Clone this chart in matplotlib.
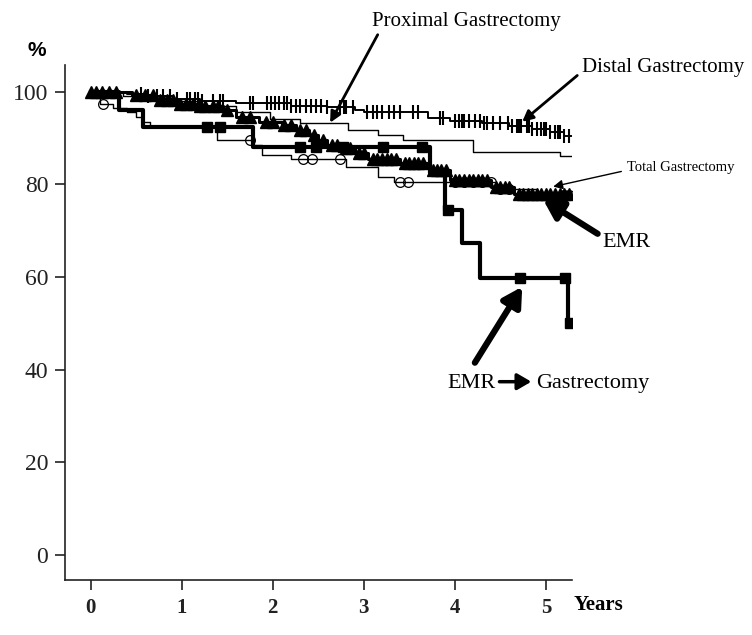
import numpy as np
import matplotlib.pyplot as plt

# Kaplan-Meier style survival steps (years, %)
distal_t = [0, 0.4, 0.6, 0.9, 1.2, 1.6, 2.2, 2.6, 2.9, 3.0, 3.7, 3.95, 4.3, 4.6, 4.85, 5.05, 5.2]
distal_s = [100, 99.5, 99, 98.5, 97.9, 97.5, 97, 96.6, 96.1, 95.5, 94.4, 93.7, 93.3, 92.5, 92, 91.3, 90.5]
distal_end = 5.28
distal_cens = [0.55, 0.63, 0.73, 0.79, 0.87, 0.95, 1.06, 1.09, 1.15, 1.18, 1.22, 1.34, 1.42, 1.45,
               1.75, 1.78, 1.94, 1.98, 2.02, 2.07, 2.12, 2.16, 2.2, 2.25, 2.3, 2.36, 2.42,
               2.48, 2.53, 2.6, 2.74, 2.78, 2.8, 2.88, 3.04, 3.1, 3.14, 3.2, 3.28, 3.33, 3.4,
               3.54, 3.59, 3.84, 3.87, 4.0, 4.05, 4.08, 4.1, 4.15, 4.22, 4.28, 4.32, 4.35,
               4.42, 4.5, 4.58, 4.63, 4.68, 4.7, 4.73, 4.79, 4.82, 4.85, 4.9, 4.95, 4.98, 5.0,
               5.05, 5.1, 5.13, 5.15, 5.2, 5.25]

prox_t = [0, 0.35, 0.8, 1.2, 1.6, 1.97, 2.3, 2.83, 3.16, 3.43, 4.2, 5.15]
prox_s = [100, 99, 98, 97, 95.5, 94, 93.3, 91.8, 90.7, 89.6, 87, 86.2]
prox_end = 5.28

total_t = [0, 0.1, 0.25, 0.4, 0.5, 0.57, 0.65, 1.39, 1.78, 1.88, 2.2, 2.8, 3.16, 3.33, 4.45, 4.9]
total_s = [100, 97.4, 96.5, 95.5, 94.5, 93.5, 92.4, 89.6, 88.5, 86.4, 85.5, 83.8, 81.6, 80.6, 79, 77.8]
total_end = 5.28
total_cens = [0.13, 1.75, 2.33, 2.43, 2.74, 3.4, 3.49, 4.0, 4.1, 4.2, 4.3, 4.4, 4.5, 4.6, 5.2, 5.25]

emr_t = [0, 0.45, 0.7, 0.95, 1.2, 1.45, 1.6, 1.85, 2.1, 2.25, 2.4, 2.5, 2.6, 2.75, 2.9, 3.05,
         3.4, 3.72, 3.95, 4.4, 4.65]
emr_s = [100, 99.3, 98.3, 97.4, 96.8, 96.1, 94.6, 93.5, 92.9, 91.8, 90.7, 89.6, 88.5, 87.9, 86.8,
         85.5, 84.5, 83, 81, 79.5, 78]
emr_end = 5.28
emr_cens = [0.0, 0.06, 0.12, 0.2, 0.28, 0.5, 0.6, 0.68, 0.76, 0.84, 0.9, 0.98, 1.05, 1.12, 1.2,
            1.26, 1.34, 1.4, 1.5, 1.66, 1.75, 1.92, 2.0, 2.12, 2.2, 2.3, 2.36, 2.45, 2.55, 2.65,
            2.7, 2.8, 2.85, 2.95, 3.0, 3.1, 3.15, 3.2, 3.25, 3.3, 3.35, 3.45, 3.5, 3.55, 3.6,
            3.65, 3.76, 3.8, 3.85, 3.9, 4.0, 4.05, 4.1, 4.15, 4.2, 4.25, 4.3, 4.35, 4.45, 4.5,
            4.55, 4.6, 4.7, 4.75, 4.8, 4.85, 4.9, 4.95, 5.0, 5.05, 5.1, 5.15, 5.2, 5.25]

emrg_t = [0, 0.31, 0.575, 1.785, 3.73, 3.89, 4.08, 4.28, 5.24]
emrg_s = [100, 96.1, 92.4, 88.1, 82.5, 74.5, 67.4, 59.8, 50.1]
emrg_end = 5.28
emrg_cens = [1.28, 1.42, 2.3, 2.47, 2.77, 3.21, 3.64, 3.93, 4.72, 5.21, 5.27]

x_ticks = [0, 1, 2, 3, 4, 5]
y_ticks = [0, 20, 40, 60, 80, 100]

SERIF = ['Liberation Serif', 'DejaVu Serif']


def step_value(t, s, when):
    idx = np.searchsorted(t, when, side='right') - 1
    return np.asarray(s)[idx]


def km(ax, t, s, end, cens=None, lw=1.0, marker=None, ms=7, mfc='black', mew=1.0):
    ax.step(list(t) + [end], list(s) + [s[-1]], where='post', color='black', lw=lw, zorder=3)
    if cens is not None:
        ax.plot(cens, step_value(t, s, cens), ls='none', marker=marker, ms=ms,
                mfc=mfc, mec='black', mew=mew, zorder=4)


fig = plt.figure(figsize=(7.52, 6.35), dpi=100)
ax = fig.add_axes([0.0864, 0.0866, 0.6746, 0.8114])

km(ax, prox_t, prox_s, prox_end, lw=1.0)
km(ax, total_t, total_s, total_end, total_cens, lw=1.0, marker='o', ms=7, mfc='none', mew=0.9)
km(ax, distal_t, distal_s, distal_end, distal_cens, lw=1.4, marker='|', ms=10, mew=1.5)
km(ax, emrg_t, emrg_s, emrg_end, emrg_cens, lw=3.0, marker='s', ms=7)
km(ax, emr_t, emr_s, emr_end, emr_cens, lw=2.2, marker='^', ms=9)

ax.set_xlim(-0.283, 5.29)
ax.set_ylim(-5.4, 105.8)
ax.set_xticks(x_ticks)
ax.set_yticks(y_ticks)
ax.set_xticklabels([str(v) for v in x_ticks], fontfamily=SERIF, fontweight='bold', fontsize=15)
ax.set_yticklabels([str(v) for v in y_ticks], fontfamily=SERIF, fontsize=17)
ax.tick_params(axis='y', length=7, width=1.2, pad=5, colors='#222222')
ax.tick_params(axis='x', length=7, width=1.2, pad=6, colors='#222222')
for side in ['top', 'right']:
    ax.spines[side].set_visible(False)
for side in ['left', 'bottom']:
    ax.spines[side].set_linewidth(1.2)
    ax.spines[side].set_color('#222222')

fig.text(37 / 752, 1 - 50 / 635, '%', ha='center', va='center', fontsize=15,
         fontweight='bold', family=['Liberation Sans', 'DejaVu Sans'])
fig.text(598 / 752, 1 - 605 / 635, 'Years', ha='center', va='center', fontsize=15,
         fontweight='bold', family=SERIF)

# labels and arrows
ax.annotate('Proximal Gastrectomy', xy=(2.63, 93.3), xytext=(4.13, 115.2),
            ha='center', va='center', fontsize=15, family=SERIF, annotation_clip=False,
            arrowprops=dict(arrowstyle='-|>', lw=2, color='black', mutation_scale=16,
                            shrinkA=1, shrinkB=0, relpos=(0.04, 0.0)))
ax.annotate('Distal Gastrectomy', xy=(4.74, 93.5), xytext=(6.29, 105.2),
            ha='center', va='center', fontsize=15, family=SERIF, annotation_clip=False,
            arrowprops=dict(arrowstyle='-|>', lw=2, color='black', mutation_scale=16,
                            shrinkA=2, shrinkB=0, relpos=(0.0, 0.3)))
ax.annotate('Total Gastrectomy', xy=(5.08, 79.5), xytext=(6.48, 83.6),
            ha='center', va='center', fontsize=10.5, family=SERIF, annotation_clip=False,
            arrowprops=dict(arrowstyle='-|>', lw=1, color='black', mutation_scale=14,
                            shrinkA=2, shrinkB=0, relpos=(0.0, 0.3)))
ax.annotate('EMR', xy=(4.97, 76.7), xytext=(5.89, 67.4),
            ha='center', va='center', fontsize=16, family=SERIF, annotation_clip=False,
            arrowprops=dict(arrowstyle='-|>,head_length=0.8,head_width=0.45', lw=4.5,
                            color='black', mutation_scale=14, shrinkA=2, shrinkB=0,
                            relpos=(0.0, 0.8)))
ax.annotate('', xy=(4.74, 57.9), xytext=(4.22, 41.5), annotation_clip=False,
            arrowprops=dict(arrowstyle='-|>,head_length=0.8,head_width=0.45', lw=4.5,
                            color='black', mutation_scale=14, shrinkA=0, shrinkB=0))
ax.text(4.18, 37.1, 'EMR', ha='center', va='center', fontsize=16, family=SERIF)
ax.text(5.52, 37.1, 'Gastrectomy', ha='center', va='center', fontsize=16, family=SERIF,
        clip_on=False)
ax.annotate('', xy=(4.84, 37.4), xytext=(4.49, 37.4), annotation_clip=False,
            arrowprops=dict(arrowstyle='-|>,head_length=0.6,head_width=0.35', lw=2.5,
                            color='black', mutation_scale=14, shrinkA=0, shrinkB=0))

fig.savefig('out.png', dpi=100)
